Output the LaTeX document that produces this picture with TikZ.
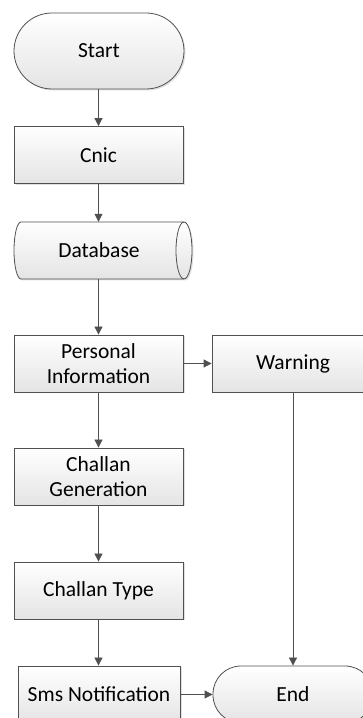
\documentclass[tikz,border=0pt]{standalone}
\usepackage{fontspec}
\setmainfont{Carlito}
\usetikzlibrary{arrows.meta,shadows}
\definecolor{edgec}{HTML}{505050}
\definecolor{botc}{HTML}{E4E4E4}
\tikzset{
  every node/.style={font=\fontsize{21.5}{25}\selectfont, text=black},
  boxbase/.style={draw=edgec, line width=0.8pt, top color=white, bottom color=botc,
    drop shadow={shadow xshift=1.5pt, shadow yshift=-1.5pt, fill=black!35, opacity=0.35},
    inner sep=0pt, align=center},
  procbox/.style={boxbase, rectangle, minimum width=169pt, minimum height=57pt},
  termbox/.style={boxbase, rectangle, rounded corners=28pt, minimum height=57pt},
  conn/.style={draw=edgec, line width=0.8pt, -{Triangle[width=8pt,length=8pt]}},
}
\begin{document}
\begin{tikzpicture}[x=1pt,y=1pt]
\useasboundingbox (0,0) rectangle (363,718);
\clip (0,0) rectangle (363,718);
% Start
\node[boxbase, rectangle, rounded corners=38pt, minimum width=170pt, minimum height=76pt] (start) at (99,667) {Start};
\node[procbox] (cnic) at (98.5,563) {Cnic};
% Database cylinder
\node[minimum width=170pt, minimum height=57pt, inner sep=0pt] (db) at (99,467.5) {};
\path[draw=edgec, line width=0.8pt, top color=white, bottom color=botc,
  drop shadow={shadow xshift=1.5pt, shadow yshift=-1.5pt, fill=black!35, opacity=0.35}]
  (21,496) -- (184,496) arc[start angle=90, end angle=-90, x radius=8, y radius=28.5]
  -- (21,439) arc[start angle=270, end angle=90, x radius=7, y radius=28.5] -- cycle;
\draw[edgec, line width=0.8pt] (184,496) arc[start angle=90, end angle=270, x radius=8, y radius=28.5];
\node at (db) {Database};
\node[procbox] (pi) at (98.5,354.5) {Personal\\Information};
\node[procbox, minimum width=162pt] (warn) at (293,354.5) {Warning};
\node[procbox] (cg) at (98.5,241.5) {Challan\\Generation};
\node[procbox] (ct) at (98.5,127.5) {Challan Type};
\node[procbox, minimum width=162pt] (sms) at (99,23.5) {Sms Notification};
\node[termbox, minimum width=160pt] (end) at (293,23.5) {End};
% connectors
\draw[conn] (start.south -| cnic.north) -- (cnic.north);
\draw[conn] (cnic.south) -- (cnic.south |- db.north);
\draw[conn] (db.south -| pi.north) -- (pi.north);
\draw[conn] (pi.east) -- (warn.west);
\draw[conn] (pi.south) -- (cg.north);
\draw[conn] (cg.south) -- (ct.north);
\draw[conn] (ct.south) -- (ct.south |- sms.north);
\draw[conn] (warn.south) -- (end.north);
\draw[conn] (sms.east) -- (end.west);
\end{tikzpicture}
\end{document}
